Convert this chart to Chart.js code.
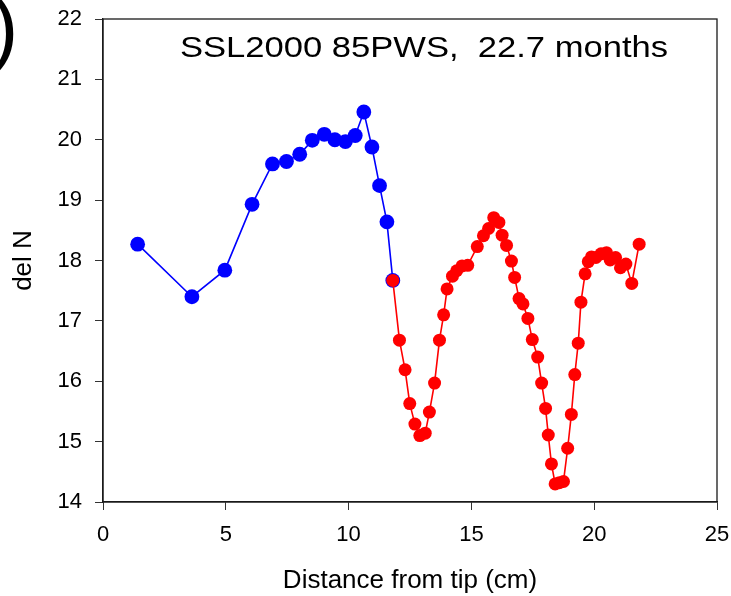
<!DOCTYPE html>
<html>
<head>
<meta charset="utf-8">
<script src="https://cdn.jsdelivr.net/npm/chart.js@4"></script>
<style>
    html, body { margin: 0; padding: 0; background: #fff; }
    #wrap { width: 731px; height: 596px; }
</style>
</head>
<body>
<div id="wrap"><canvas id="delNChart" width="731" height="596"></canvas></div>
<script>
// Blue segment (tip side)
const blueX = [1.41, 3.62, 4.96, 6.07, 6.90, 7.47, 8.01, 8.52, 9.01, 9.44, 9.87, 10.27, 10.62, 10.95, 11.26, 11.56, 11.80];
const blueY = [18.27, 17.40, 17.84, 18.93, 19.60, 19.64, 19.76, 19.99, 20.09, 20.00, 19.97, 20.07, 20.46, 19.88, 19.24, 18.64, 17.67];

// Red segment
const redX = [11.80, 12.07, 12.30, 12.49, 12.70, 12.90, 13.12, 13.29, 13.50, 13.70, 13.87, 14.01, 14.23, 14.40, 14.62, 14.85, 15.24, 15.49, 15.70, 15.91,
              16.12, 16.25, 16.43, 16.63, 16.76, 16.94, 17.10, 17.30, 17.48, 17.70, 17.86, 18.02, 18.13, 18.26, 18.41, 18.58, 18.75, 18.92, 19.07, 19.21,
              19.35, 19.46, 19.63, 19.76, 19.89, 20.07, 20.28, 20.50, 20.65, 20.87, 21.07, 21.29, 21.53, 21.83];
const redY = [17.67, 16.68, 16.19, 15.63, 15.29, 15.10, 15.14, 15.49, 15.97, 16.68, 17.10, 17.53, 17.74, 17.83, 17.91, 17.92, 18.23, 18.41, 18.53, 18.71,
              18.63, 18.42, 18.25, 17.99, 17.72, 17.37, 17.28, 17.04, 16.69, 16.40, 15.97, 15.55, 15.11, 14.63, 14.30, 14.32, 14.34, 14.89, 15.45, 16.11,
              16.63, 17.31, 17.78, 17.98, 18.06, 18.05, 18.11, 18.13, 18.01, 18.05, 17.88, 17.94, 17.62, 18.27];

// Axis ticks
const xTicks = [0, 5, 10, 15, 20, 25];
const yTicks = [14, 15, 16, 17, 18, 19, 20, 21, 22];

const chartTitle = 'SSL2000 85PWS,  22.7 months';
const panelMark = ')';
const FONT = 'Arial, "Liberation Sans", sans-serif';

const toPoints = (xs, ys) => xs.map((x, i) => ({ x: x, y: ys[i] }));

// frame box + in-plot title + cut-off panel letter
const extras = {
    id: 'extras',
    afterDraw(chart) {
        const { ctx, chartArea: a } = chart;
        ctx.save();
        ctx.strokeStyle = '#1a1a1a';
        ctx.lineWidth = 1.3;
        ctx.strokeRect(a.left, a.top, a.right - a.left, a.bottom - a.top);

        ctx.fillStyle = '#000';
        ctx.font = '30px ' + FONT;
        ctx.textBaseline = 'alphabetic';
        const w = ctx.measureText(chartTitle).width;
        const sx = 488 / w;
        ctx.translate(180, 57);
        ctx.scale(sx, 1);
        ctx.fillText(chartTitle, 0, 0);
        ctx.restore();

        ctx.save();
        ctx.fillStyle = '#000';
        ctx.font = '82px ' + FONT;
        ctx.fillText(panelMark, -9, 55);
        ctx.restore();
    }
};

new Chart(document.getElementById('delNChart'), {
    type: 'scatter',
    data: {
        datasets: [
            {
                label: 'blue',
                data: toPoints(blueX, blueY),
                showLine: true,
                borderColor: '#0000ff',
                backgroundColor: '#0000ff',
                borderWidth: 1.6,
                pointRadius: 7.4,
                pointBorderWidth: 0,
                order: 2
            },
            {
                label: 'red',
                data: toPoints(redX, redY),
                showLine: true,
                borderColor: '#ff0000',
                backgroundColor: '#ff0000',
                borderWidth: 1.6,
                pointRadius: 6.5,
                pointBorderWidth: 0,
                order: 1
            }
        ]
    },
    options: {
        responsive: false,
        animation: false,
        layout: { padding: { left: 0, right: 14, top: 19, bottom: 0 } },
        plugins: { legend: { display: false }, tooltip: { enabled: false } },
        scales: {
            x: {
                type: 'linear',
                min: 0, max: 25,
                afterBuildTicks: s => { s.ticks = xTicks.map(v => ({ value: v })); },
                afterFit: s => { s.height = 94; s.paddingLeft = 0; s.paddingRight = 0; },
                grid: { drawOnChartArea: false, tickLength: 8, color: '#333' },
                border: { color: '#1a1a1a', width: 1.3 },
                ticks: { padding: 12, color: '#000', font: { family: FONT, size: 22 } },
                title: { display: true, text: 'Distance from tip (cm)', color: '#000', padding: { top: 0, bottom: 0 }, font: { family: FONT, size: 26 } }
            },
            y: {
                type: 'linear',
                min: 14, max: 22,
                afterBuildTicks: s => { s.ticks = yTicks.map(v => ({ value: v })); },
                afterFit: s => { s.width = 103; s.paddingTop = 0; s.paddingBottom = 0; },
                grid: { drawOnChartArea: false, tickLength: 8, color: '#333' },
                border: { color: '#1a1a1a', width: 1.3 },
                ticks: { padding: 13, color: '#000', font: { family: FONT, size: 22 } },
                title: { display: true, text: 'del N', color: '#000', padding: { top: 8, bottom: 0 }, font: { family: FONT, size: 26 } }
            }
        }
    },
    plugins: [extras]
});
</script>
</body>
</html>
